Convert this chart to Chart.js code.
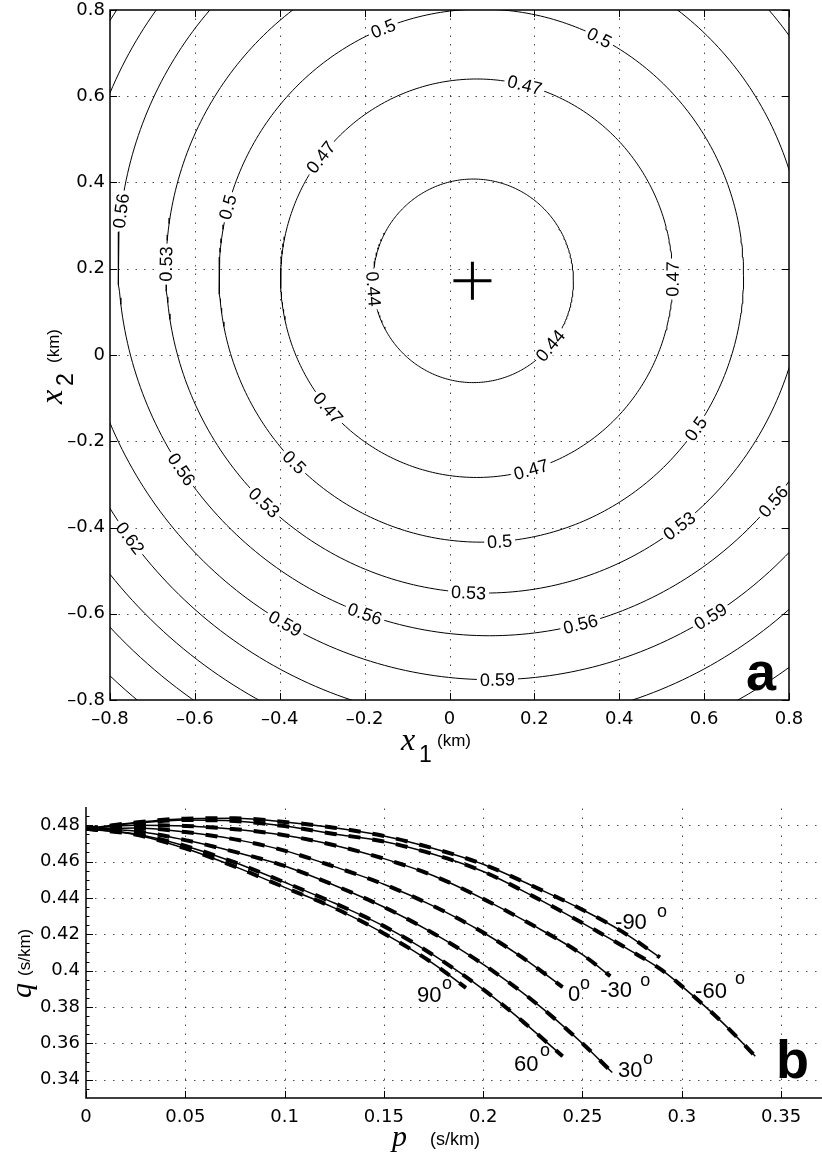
<!DOCTYPE html>
<html><head><meta charset="utf-8">
<script src="https://cdn.jsdelivr.net/npm/chart.js@4.4.1/dist/chart.umd.min.js"></script>
<style>
html,body{margin:0;padding:0;background:#fff;overflow:hidden;}
#wrap{position:relative;width:822px;height:1156px;background:#fff;}
#ca{position:absolute;left:0;top:0;width:822px;height:770px;}
#cb{position:absolute;left:0;top:770px;width:822px;height:386px;}
</style></head><body>
<div id="wrap"><canvas id="ca" width="822" height="770"></canvas><canvas id="cb" width="822" height="386"></canvas></div>
<script>
// ---------- Panel a : contour map ----------
const aTickValues = [-0.8,-0.6,-0.4,-0.2,0,0.2,0.4,0.6,0.8];
const aTickLabels = ['–0.8','–0.6','–0.4','–0.2','0','0.2','0.4','0.6','0.8'];
const contourLevels  = [0.44, 0.47, 0.5,  0.53, 0.56, 0.59, 0.62, 0.65, 0.68, 0.71];
const contourCenterX = [0.056,0.064,0.075,0.084,0.094,0.100,0.100,0.115,0.115,0.115];
const contourCenterY = [0.172,0.178,0.184,0.200,0.224,0.225,0.210,0.235,0.235,0.235];
const contourRadius  = [0.236,0.462,0.618,0.752,0.875,0.978,1.063,1.179,1.260,1.340];
const contourLabelLevel = [0.5,0.47,0.56,0.5,0.53,0.44,0.5,0.47,0.47,0.44,0.47,0.5,0.56,0.53,0.62,0.59,0.56,0.5,0.47,0.53,0.56,0.5,0.53,0.56,0.59,0.59];
const contourLabelX = [-0.156,-0.304,-0.773,-0.523,-0.672,-0.179,0.353,0.177,0.525,0.236,-0.292,-0.37,-0.64,-0.44,-0.759,-0.389,-0.203,0.575,0.191,0.537,0.764,0.118,0.045,0.309,0.613,0.113];
const contourLabelY = [0.756,0.459,0.334,0.343,0.211,0.153,0.735,0.626,0.176,0.023,-0.128,-0.253,-0.271,-0.346,-0.429,-0.626,-0.61,-0.167,-0.262,-0.39,-0.341,-0.429,-0.55,-0.626,-0.603,-0.759];
const crossX = [0.054];
const crossY = [0.172];

// ---------- Panel b : q(p) curves ----------
const bXTickValues = [0,0.05,0.1,0.15,0.2,0.25,0.3,0.35];
const bXTickLabels = ['0','0.05','0.1','0.15','0.2','0.25','0.3','0.35'];
const bYTickValues = [0.34,0.36,0.38,0.4,0.42,0.44,0.46,0.48];
const bYTickLabels = ['0.34','0.36','0.38','0.4','0.42','0.44','0.46','0.48'];
const curveAngles = ['-90','-60','-30','0','30','60','90'];
const pM90 = [0,0.025,0.05,0.075,0.1,0.125,0.15,0.175,0.2,0.225,0.25,0.27,0.289];
const qM90 = [0.478,0.4815,0.4836,0.4838,0.4818,0.4786,0.4741,0.4672,0.4585,0.4465,0.4335,0.4215,0.4073];
const pM60 = [0,0.025,0.05,0.075,0.1,0.125,0.15,0.175,0.2,0.225,0.25,0.275,0.29,0.30,0.32,0.337];
const qM60 = [0.478,0.4810,0.4828,0.4823,0.4795,0.4752,0.4710,0.4640,0.4545,0.4410,0.4262,0.4105,0.4003,0.3915,0.3720,0.3530];
const pM30 = [0,0.025,0.05,0.075,0.1,0.125,0.15,0.175,0.2,0.225,0.25,0.264];
const qM30 = [0.478,0.4800,0.4796,0.4778,0.4745,0.4690,0.4616,0.4522,0.4395,0.4250,0.4088,0.3970];
const pP0  = [0,0.025,0.05,0.075,0.1,0.125,0.15,0.175,0.2,0.22,0.24];
const qP0  = [0.478,0.4785,0.4762,0.4722,0.4660,0.4572,0.4475,0.4355,0.4210,0.4070,0.3910];
const pP30 = [0,0.025,0.05,0.075,0.1,0.125,0.15,0.175,0.2,0.225,0.25,0.265];
const qP30 = [0.478,0.4768,0.4718,0.4653,0.4576,0.4470,0.4350,0.4205,0.4035,0.3835,0.3600,0.3440];
const pP60 = [0,0.025,0.05,0.075,0.1,0.125,0.15,0.175,0.2,0.22,0.24];
const qP60 = [0.478,0.4752,0.4686,0.4595,0.4486,0.4372,0.4245,0.4085,0.3897,0.3720,0.3530];
const pP90 = [0,0.025,0.05,0.075,0.1,0.125,0.15,0.175,0.1913];
const qP90 = [0.478,0.4748,0.4672,0.4572,0.4458,0.4345,0.4205,0.4038,0.3906];
const curveP = [pM90,pM60,pM30,pP0,pP30,pP60,pP90];
const curveQ = [qM90,qM60,qM30,qP0,qP30,qP60,qP90];
// label anchors (data coords) and degree-sign offsets (px)
const curveLabelP = [0.2664,0.3067,0.2589,0.2427,0.2679,0.2155,0.1667];
const curveLabelQ = [0.4228,0.3849,0.3854,0.3832,0.3414,0.3447,0.3826];
const curveSupDx  = [42,40,40,12,25,26,25];
const curveSupDy  = [-12,-14,-11,-12,-13,-15,-13];

const TICKFONT = {family:'DejaVu Sans', size:18};

function crisp(v){ return Math.round(v)+0.5; }

// ---------------- Chart a ----------------
const contourDatasets = contourLevels.map((lev,k)=>{
  const pts=[];
  for(let i=0;i<=360;i++){
    const t=i*Math.PI/180;
    pts.push({x:contourCenterX[k]+contourRadius[k]*Math.cos(t), y:contourCenterY[k]+contourRadius[k]*Math.sin(t)});
  }
  return {data:pts, showLine:true, pointRadius:0, borderColor:'#000', borderWidth:1, tension:0, fill:false};
});
const crossDataset = {data:crossX.map((v,i)=>({x:v,y:crossY[i]})), showLine:false, pointStyle:'cross', pointRadius:19, pointBorderWidth:3, pointBorderColor:'#000', pointBackgroundColor:'#000'};

const aPlugin = {
  id:'aDecor',
  beforeDatasetsDraw(chart){
    const {ctx, chartArea:{left,right,top,bottom}, scales:{x,y}} = chart;
    ctx.save();
    ctx.strokeStyle='rgba(0,0,0,0.7)'; ctx.lineWidth=1; ctx.setLineDash([1.5,7]);
    aTickValues.slice(1,-1).forEach(v=>{
      const px=crisp(x.getPixelForValue(v));
      ctx.beginPath(); ctx.moveTo(px,bottom); ctx.lineTo(px,top); ctx.stroke();
      const py=crisp(y.getPixelForValue(v));
      ctx.beginPath(); ctx.moveTo(left,py); ctx.lineTo(right,py); ctx.stroke();
    });
    ctx.restore();
  },
  afterDatasetsDraw(chart){
    const {ctx, chartArea:{left,right,top,bottom}, scales:{x,y}} = chart;
    ctx.save();
    // contour labels
    ctx.font='18px "Liberation Sans"';
    ctx.textAlign='center'; ctx.textBaseline='middle';
    contourLabelLevel.forEach((lev,i)=>{
      const k=contourLevels.indexOf(lev);
      const cx=contourCenterX[k], cy=contourCenterY[k], r=contourRadius[k];
      const dx=contourLabelX[i]-cx, dy=contourLabelY[i]-cy, d=Math.hypot(dx,dy);
      const lx=cx+dx/d*r, ly=cy+dy/d*r;
      const sx=x.getPixelForValue(lx), sy=y.getPixelForValue(ly);
      const vx=sx-x.getPixelForValue(cx), vy=sy-y.getPixelForValue(cy);
      let ang=Math.atan2(vy,vx)+Math.PI/2;
      while(ang>Math.PI/2+1e-6) ang-=Math.PI;
      while(ang<=-Math.PI/2+1e-6) ang+=Math.PI;
      const txt=String(lev);
      const w=ctx.measureText(txt).width;
      ctx.save();
      ctx.beginPath(); ctx.rect(left,top,right-left,bottom-top); ctx.clip();
      ctx.translate(sx,sy); ctx.rotate(ang);
      ctx.fillStyle='#fff'; ctx.fillRect(-w/2-3,-8,w+6,16);
      ctx.fillStyle='#000'; ctx.fillText(txt,0,1);
      ctx.restore();
    });
    // box
    ctx.strokeStyle='#000'; ctx.lineWidth=1.5; ctx.setLineDash([]);
    ctx.strokeRect(left,top,right-left,bottom-top);
    // inward ticks
    ctx.lineWidth=1;
    aTickValues.forEach(v=>{
      const px=crisp(x.getPixelForValue(v));
      ctx.beginPath(); ctx.moveTo(px,bottom); ctx.lineTo(px,bottom-7); ctx.moveTo(px,top); ctx.lineTo(px,top+7); ctx.stroke();
      const py=crisp(y.getPixelForValue(v));
      ctx.beginPath(); ctx.moveTo(left,py); ctx.lineTo(left+7,py); ctx.moveTo(right,py); ctx.lineTo(right-7,py); ctx.stroke();
    });
    // panel letter
    ctx.fillStyle='#000'; ctx.textAlign='left'; ctx.textBaseline='alphabetic';
    ctx.font='bold 54px "Liberation Sans"';
    ctx.fillText('a',746,690);
    // x title
    ctx.font='italic 32px "Liberation Serif"'; ctx.fillText('x',401,750);
    ctx.font='23px "Liberation Sans"'; ctx.fillText('1',419,762);
    ctx.font='17px "Liberation Sans"'; ctx.fillText('(km)',437,746);
    // y title (rotated)
    ctx.save(); ctx.translate(62,404); ctx.rotate(-Math.PI/2);
    ctx.font='italic 32px "Liberation Serif"'; ctx.fillText('x',0,0);
    ctx.restore();
    ctx.save(); ctx.translate(73,386); ctx.rotate(-Math.PI/2);
    ctx.font='23px "Liberation Sans"'; ctx.fillText('2',0,0);
    ctx.restore();
    ctx.save(); ctx.translate(59,363); ctx.rotate(-Math.PI/2);
    ctx.font='17px "Liberation Sans"'; ctx.fillText('(km)',0,0);
    ctx.restore();
    ctx.restore();
  }
};

new Chart(document.getElementById('ca'),{
  type:'scatter',
  data:{datasets:[...contourDatasets, crossDataset]},
  options:{
    responsive:false, animation:false, devicePixelRatio:1,
    layout:{autoPadding:false, padding:{left:0,right:33,top:10,bottom:0}},
    plugins:{legend:{display:false}, tooltip:{enabled:false}},
    scales:{
      x:{type:'linear', min:-0.8, max:0.8,
        grid:{display:false, drawTicks:false}, border:{display:false},
        afterBuildTicks:s=>{ s.ticks=aTickValues.map(v=>({value:v})); },
        afterFit:s=>{ s.height=70; s.paddingLeft=0; s.paddingRight=0; },
        ticks:{padding:9, color:'#000', font:TICKFONT, maxRotation:0, autoSkip:false, callback:(v,i)=>aTickLabels[i]}},
      y:{type:'linear', min:-0.8, max:0.8,
        grid:{display:false, drawTicks:false}, border:{display:false},
        afterBuildTicks:s=>{ s.ticks=aTickValues.map(v=>({value:v})); },
        afterFit:s=>{ s.width=110; s.paddingTop=0; s.paddingBottom=0; },
        ticks:{padding:5, color:'#000', font:TICKFONT, autoSkip:false, callback:(v,i)=>aTickLabels[i]}}
    }
  },
  plugins:[aPlugin]
});

// ---------------- Chart b ----------------
const bDatasets=[];
curveAngles.forEach((a,k)=>{
  const pts=curveP[k].map((p,i)=>({x:p,y:curveQ[k][i]}));
  bDatasets.push({label:a+' solid', data:pts, showLine:true, pointRadius:0, borderColor:'#000', borderWidth:1.5, cubicInterpolationMode:'monotone', fill:false});
  bDatasets.push({label:a+' dashed', data:pts, showLine:true, pointRadius:0, borderColor:'#000', borderWidth:4, borderDash:[12,12], cubicInterpolationMode:'monotone', fill:false});
});

const bPlugin = {
  id:'bDecor',
  beforeDatasetsDraw(chart){
    const {ctx, chartArea:{left,right,top,bottom}, scales:{x,y}} = chart;
    ctx.save();
    ctx.strokeStyle='rgba(0,0,0,0.7)'; ctx.lineWidth=1; ctx.setLineDash([1.5,7.5]);
    bXTickValues.slice(1).forEach(v=>{
      const px=crisp(x.getPixelForValue(v));
      ctx.beginPath(); ctx.moveTo(px,bottom); ctx.lineTo(px,top); ctx.stroke();
    });
    bYTickValues.forEach(v=>{
      const py=crisp(y.getPixelForValue(v));
      ctx.beginPath(); ctx.moveTo(left,py); ctx.lineTo(right,py); ctx.stroke();
    });
    ctx.restore();
  },
  afterDatasetsDraw(chart){
    const {ctx, chartArea:{left,right,top,bottom}, scales:{x,y}} = chart;
    ctx.save();
    ctx.strokeStyle='#000'; ctx.setLineDash([]); ctx.lineWidth=1.5;
    ctx.beginPath(); ctx.moveTo(left,top); ctx.lineTo(left,bottom); ctx.lineTo(right,bottom); ctx.stroke();
    ctx.lineWidth=1;
    bXTickValues.forEach(v=>{
      const px=crisp(x.getPixelForValue(v));
      ctx.beginPath(); ctx.moveTo(px,bottom); ctx.lineTo(px,bottom-7); ctx.stroke();
    });
    bYTickValues.forEach(v=>{
      const py=crisp(y.getPixelForValue(v));
      ctx.beginPath(); ctx.moveTo(left,py); ctx.lineTo(left+7,py); ctx.stroke();
    });
    for(let v=0.335; v<0.49; v+=0.005){
      const py=crisp(y.getPixelForValue(v));
      ctx.beginPath(); ctx.moveTo(left,py); ctx.lineTo(left+3.5,py); ctx.stroke();
    }
    // curve labels
    ctx.fillStyle='#000'; ctx.textAlign='left'; ctx.textBaseline='alphabetic';
    curveAngles.forEach((a,k)=>{
      const sx=x.getPixelForValue(curveLabelP[k]), sy=y.getPixelForValue(curveLabelQ[k]);
      ctx.font='22px "Liberation Sans"'; ctx.fillText(a,sx,sy);
      ctx.font='18px "Liberation Sans"'; ctx.fillText('o',sx+curveSupDx[k],sy+curveSupDy[k]);
    });
    // panel letter
    ctx.font='bold 54px "Liberation Sans"'; ctx.fillText('b',776,308);
    // x title
    ctx.font='italic 30px "Liberation Serif"'; ctx.fillText('p',392,376);
    ctx.font='18px "Liberation Sans"'; ctx.fillText('(s/km)',430,375);
    // y title
    ctx.save(); ctx.translate(31,228); ctx.rotate(-Math.PI/2);
    ctx.font='italic 30px "Liberation Serif"'; ctx.fillText('q',0,0);
    ctx.restore();
    ctx.save(); ctx.translate(30,206); ctx.rotate(-Math.PI/2);
    ctx.font='17px "Liberation Sans"'; ctx.fillText('(s/km)',0,0);
    ctx.restore();
    ctx.restore();
  }
};

new Chart(document.getElementById('cb'),{
  type:'scatter',
  data:{datasets:bDatasets},
  options:{
    responsive:false, animation:false, devicePixelRatio:1,
    layout:{autoPadding:false, padding:{left:0,right:0,top:37,bottom:0}},
    plugins:{legend:{display:false}, tooltip:{enabled:false}},
    scales:{
      x:{type:'linear', min:0, max:0.3706,
        grid:{display:false, drawTicks:false}, border:{display:false},
        afterBuildTicks:s=>{ s.ticks=bXTickValues.map(v=>({value:v})); },
        afterFit:s=>{ s.height=58; s.paddingLeft=0; s.paddingRight=0; },
        ticks:{padding:9, color:'#000', font:TICKFONT, maxRotation:0, autoSkip:false, callback:(v,i)=>bXTickLabels[i]}},
      y:{type:'linear', min:0.33, max:0.49,
        grid:{display:false, drawTicks:false}, border:{display:false},
        afterBuildTicks:s=>{ s.ticks=bYTickValues.map(v=>({value:v})); },
        afterFit:s=>{ s.width=86; s.paddingTop=0; s.paddingBottom=0; },
        ticks:{padding:6, color:'#000', font:TICKFONT, autoSkip:false, callback:(v,i)=>bYTickLabels[i]}}
    }
  },
  plugins:[bPlugin]
});
</script>
</body></html>
